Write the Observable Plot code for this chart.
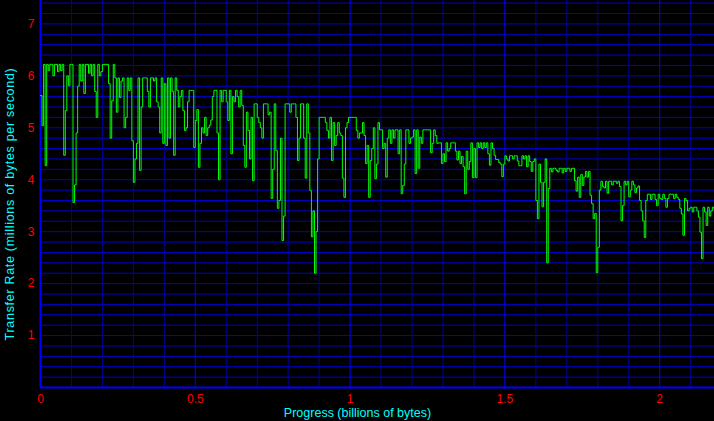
<!DOCTYPE html>
<html>
<head>
<meta charset="utf-8">
<script src="https://cdn.jsdelivr.net/npm/d3@7"></script>
<script src="https://cdn.jsdelivr.net/npm/@observablehq/plot@0.6"></script>
<style>
  html, body { margin: 0; padding: 0; background: #000; }
  #chart { width: 714px; height: 421px; overflow: hidden; }
</style>
</head>
<body>
<div id="chart"></div>
<script>
// Sample spacing along the x axis (billions of bytes per reading)
const sampleStep = 0.005;

// Transfer rate readings (millions of bytes per second), one per sample
const rate = [
  5.62,5.04,6.22,4.27,6.22,6.1,6.22,6.22,6.0,6.22,
  6.22,6.08,6.22,6.1,6.22,4.47,5.33,6.0,5.81,6.22,
  6.22,3.56,3.9,4.9,5.8,6.22,5.9,6.22,5.66,6.22,
  6.22,6.05,6.22,6.0,6.22,5.7,5.2,6.22,6.0,6.08,
  6.22,6.22,6.22,6.22,5.85,4.8,5.52,6.22,5.96,5.3,
  5.96,5.58,5.9,5.96,5.0,5.2,5.96,5.72,5.96,4.75,
  3.95,4.4,4.7,5.96,4.18,5.4,5.96,5.96,5.96,5.7,
  5.4,5.96,5.96,5.9,5.96,5.5,5.4,4.9,5.96,4.7,
  5.85,4.66,5.96,4.8,5.96,5.7,4.47,5.96,5.72,5.4,
  5.6,5.72,5.33,4.95,5.0,5.5,5.72,5.72,5.72,4.62,
  5.14,5.35,4.24,4.7,5.0,4.9,5.2,4.85,5.0,5.05,
  5.15,5.6,5.72,5.72,4.9,4.0,5.72,5.5,5.72,5.72,
  5.5,5.14,5.72,4.5,5.6,5.5,5.72,5.6,5.4,5.72,
  5.43,4.66,4.24,5.3,4.95,4.4,5.2,3.98,5.46,5.46,
  5.2,5.1,5.0,4.8,5.46,5.46,5.46,5.25,5.3,3.64,
  4.2,5.46,4.56,3.45,3.6,4.8,2.83,3.3,5.46,5.46,
  5.46,5.3,5.46,5.46,5.46,5.2,4.37,4.8,5.46,5.46,
  4.8,4.03,5.46,4.9,3.79,2.9,3.4,2.2,3.0,4.4,
  5.2,5.2,5.2,5.2,5.1,4.95,4.8,5.2,4.37,5.1,
  4.66,4.85,5.1,4.9,4.85,4.03,3.66,5.0,5.1,5.2,
  5.2,5.2,5.2,5.2,4.95,4.8,4.9,4.9,5.1,4.85,
  4.31,4.66,3.66,4.37,4.6,5.0,4.02,4.3,5.1,4.96,
  4.96,4.6,4.7,4.05,4.8,4.96,4.7,4.96,4.8,4.96,
  4.96,4.5,4.96,3.73,3.89,4.3,4.96,4.96,4.7,4.8,
  4.82,4.96,4.12,4.96,4.22,4.82,4.7,4.96,4.96,4.96,
  4.96,4.96,4.52,4.7,4.96,4.85,4.7,4.71,4.71,4.31,
  4.5,4.35,4.71,4.55,4.6,4.71,4.71,4.71,4.55,4.38,
  4.55,4.31,4.45,4.25,3.73,4.55,4.2,4.35,4.71,4.04,
  4.6,4.04,4.71,4.62,4.71,4.6,4.71,4.62,4.71,4.5,
  4.28,4.71,4.6,4.47,4.39,4.39,4.33,4.3,4.06,4.3,
  4.46,4.4,4.36,4.46,4.46,4.4,4.46,4.46,4.36,4.27,
  4.27,4.46,4.4,4.46,4.25,4.46,4.35,4.16,4.35,4.4,
  3.6,3.25,4.3,3.95,3.48,3.95,4.4,2.4,3.83,4.22,
  4.15,4.22,4.22,4.18,4.15,4.22,4.22,4.13,4.22,4.16,
  4.22,4.22,4.16,4.22,4.22,3.98,3.78,4.05,3.66,4.1,
  3.89,4.05,4.16,4.05,4.16,3.7,3.54,3.25,3.35,2.21,
  2.7,3.8,3.97,3.87,3.84,3.97,3.74,3.97,3.97,3.9,
  3.97,3.97,3.93,3.97,3.87,3.21,3.5,3.97,3.9,3.97,
  3.67,3.8,3.97,3.9,3.75,3.84,3.88,3.6,3.4,3.21,
  2.89,3.6,3.72,3.72,3.62,3.72,3.72,3.62,3.5,3.72,
  3.64,3.62,3.72,3.64,3.47,3.64,3.72,3.72,3.72,3.64,
  3.72,3.66,3.62,3.45,3.34,2.93,3.64,3.6,3.4,3.45,
  3.47,3.38,3.47,3.47,3.4,3.28,2.99,2.48,3.47,3.38,
  3.12,3.47,3.3,3.4,3.47,3.44,3.45
];

// Tick labels
const xTicks = [0, 0.5, 1, 1.5, 2];
const yTicks = [1, 2, 3, 4, 5, 6, 7];

// Grid positions
const xMinorGrid = [0.1,0.2,0.3,0.4,0.6,0.7,0.8,0.9,1.1,1.2,1.3,1.4,1.6,1.7,1.8,1.9,2.1];
const xMajorGrid = [0.5, 1, 1.5, 2];
const yGrid = [0.2,0.4,0.6,0.8,1,1.2,1.4,1.6,1.8,2,2.2,2.4,2.6,2.8,3,3.2,3.4,3.6,3.8,4,4.2,4.4,4.6,4.8,5,5.2,5.4,5.6,5.8,6,6.2,6.4,6.6,6.8,7,7.2,7.4];

const xLabel = "Progress (billions of bytes)";
const yLabel = "Transfer Rate (millions of bytes per second)";

const series = rate.map((v, i) => ({x: i * sampleStep, y: v}));

const chart = Plot.plot({
  width: 714,
  height: 421,
  marginLeft: 40,
  marginRight: 0,
  marginTop: 0,
  marginBottom: 34,
  style: {background: "#000", fontFamily: "'Liberation Sans', Arial, sans-serif", fontSize: "12px", overflow: "visible"},
  x: {domain: [0, 2.177]},
  y: {domain: [0, 7.45]},
  marks: [
    Plot.ruleY(yGrid, {stroke: "#0000d0", strokeWidth: 1}),
    Plot.ruleX(xMinorGrid, {stroke: "#00009a", strokeWidth: 1}),
    Plot.ruleX(xMajorGrid, {stroke: "#0000ff", strokeWidth: 1}),
    Plot.ruleX([0], {stroke: "#0000ff", strokeWidth: 2}),
    Plot.ruleY([0], {stroke: "#0000ff", strokeWidth: 2}),
    Plot.line(series, {x: "x", y: "y", curve: "step-after", stroke: "#00ff00", strokeWidth: 1, clip: true}),
    Plot.axisX(xTicks, {tickSize: 0, tickPadding: 7, fill: "#ff0000", fontSize: 12, label: null, tickFormat: d => String(d)}),
    Plot.axisY(yTicks, {tickSize: 0, tickPadding: 6, fill: "#ff0000", fontSize: 12, label: null, tickFormat: d => String(d)}),
    Plot.text([xLabel], {frameAnchor: "bottom", textAnchor: "middle", text: d => d, dx: -20, dy: 29, fill: "#00ffff", fontSize: 12.5}),
    Plot.text([yLabel], {frameAnchor: "left", textAnchor: "middle", text: d => d, rotate: -90, dx: -31, dy: 10, fill: "#00ffff", fontSize: 12.5})
  ]
});
// widen the rotated axis title's letter spacing, as in the reference
d3.select(chart).selectAll("text")
  .filter(function() { return this.textContent === yLabel; })
  .style("letter-spacing", "0.7px");
document.getElementById("chart").appendChild(chart);
</script>
</body>
</html>
